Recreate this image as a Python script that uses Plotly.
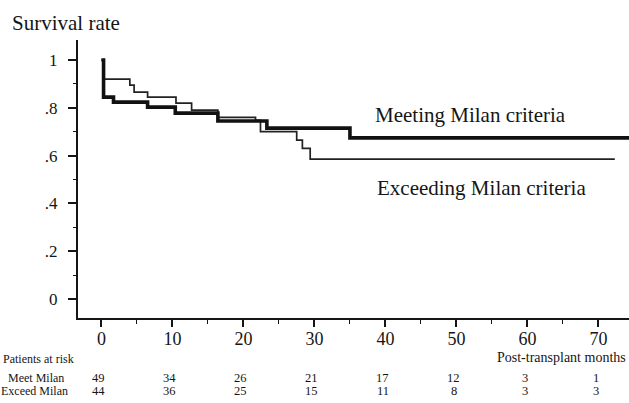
import plotly.graph_objects as go

# ---- data ----
meet_months = [0, 0.3, 1.7, 6.5, 10.4, 16.4, 23.3, 35.0, 75.0]
meet_surv = [1.0, 0.845, 0.824, 0.803, 0.778, 0.745, 0.715, 0.674, 0.674]

exceed_months = [0, 0.3, 4.0, 4.6, 6.5, 10.5, 12.7, 16.4, 21.7, 22.4, 27.5, 28.3, 29.4, 72.3]
exceed_surv = [1.0, 0.92, 0.895, 0.866, 0.845, 0.82, 0.79, 0.76, 0.748, 0.70, 0.665, 0.63, 0.585, 0.585]

x_ticks = [0, 10, 20, 30, 40, 50, 60, 70]
x_minor_ticks = [5, 15, 25, 35, 45, 55, 65]
y_ticks = [0, 0.2, 0.4, 0.6, 0.8, 1.0]
y_tick_text = ["0", ".2", ".4", ".6", ".8", "1"]
y_minor_ticks = [0.1, 0.3, 0.5, 0.7, 0.9]

risk_months = [0, 10, 20, 30, 40, 50, 60, 70]
risk_meet = [49, 34, 26, 21, 17, 12, 3, 1]
risk_exceed = [44, 36, 25, 15, 11, 8, 3, 3]

FONT = "Liberation Serif"
INK = "#151515"

W, H = 629, 403
L, R, T, B = 78, 0, 40, 85
PW, PH = W - L - R, H - T - B


def px(xp):
    return (xp - L) / PW


def py(yp):
    return (H - B - yp) / PH


fig = go.Figure()
fig.add_trace(go.Scatter(x=exceed_months, y=exceed_surv, mode="lines", line_shape="hv",
                         line=dict(color="#222222", width=1.7), showlegend=False))
fig.add_trace(go.Scatter(x=meet_months, y=meet_surv, mode="lines", line_shape="hv",
                         line=dict(color="#111111", width=3.6), showlegend=False))

ann = []


def txt(text, x, y, size, xanchor="center", xref="paper"):
    ann.append(dict(text=text, x=x, y=y, xref=xref, yref="paper",
                    xanchor=xanchor, yanchor="middle", showarrow=False,
                    font=dict(family=FONT, size=size, color=INK)))


txt("Survival rate", px(10), py(23), 21, "left")
txt("Meeting Milan criteria", px(470), py(115), 21)
txt("Exceeding Milan criteria", px(481), py(188), 21)
txt("Post-transplant months", px(628), py(357), 14, "right")
txt("Patients at risk", px(76), py(359), 12, "right")
txt("Meet Milan", px(66), py(378), 12, "right")
txt("Exceed Milan", px(70), py(391), 12, "right")
for m, a, b in zip(risk_months, risk_meet, risk_exceed):
    txt(str(a), m - 0.4, py(378), 12.5, "center", "x")
    txt(str(b), m - 0.4, py(391), 12.5, "center", "x")

fig.update_layout(
    width=W, height=H,
    margin=dict(l=L, r=R, t=T, b=B),
    paper_bgcolor="white", plot_bgcolor="white",
    annotations=ann,
    xaxis=dict(range=[-3.3, 74.3], tickmode="array", tickvals=x_ticks,
               ticks="outside", ticklen=7, tickwidth=1.5, tickcolor=INK,
               showline=True, linecolor=INK, linewidth=2, showgrid=False, zeroline=False,
               tickfont=dict(family=FONT, size=18, color=INK), ticklabelstandoff=-4,
               minor=dict(tickmode="array", tickvals=x_minor_ticks, ticks="outside",
                          ticklen=4, tickwidth=1.2, tickcolor=INK, showgrid=False)),
    yaxis=dict(range=[-0.08, 1.084], tickmode="array", tickvals=y_ticks, ticktext=y_tick_text,
               ticks="outside", ticklen=8, tickwidth=1.5, tickcolor=INK,
               showline=True, linecolor=INK, linewidth=2, showgrid=False, zeroline=False,
               tickfont=dict(family=FONT, size=17, color=INK), ticklabelstandoff=7,
               minor=dict(tickmode="array", tickvals=y_minor_ticks, ticks="outside",
                          ticklen=3, tickwidth=1.2, tickcolor=INK, showgrid=False)),
)

fig.write_html("out.html", config={"displayModeBar": False},
               post_script="document.body.style.margin='0';document.body.style.padding='0';")
